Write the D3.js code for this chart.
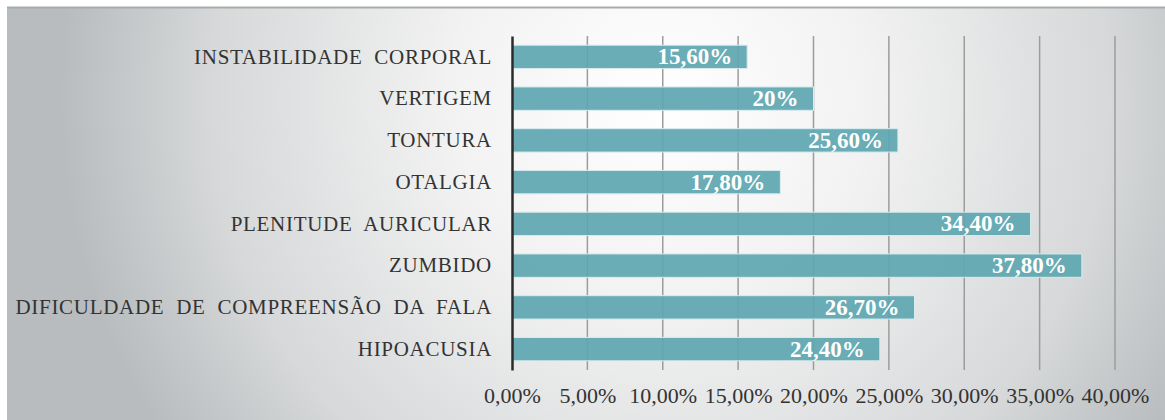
<!DOCTYPE html>
<html>
<head>
<meta charset="utf-8">
<script src="https://cdn.jsdelivr.net/npm/d3@7"></script>
</head>
<body style="margin:0">
<script>
// dados
const categorias = [
    "INSTABILIDADE  CORPORAL",
    "VERTIGEM",
    "TONTURA",
    "OTALGIA",
    "PLENITUDE  AURICULAR",
    "ZUMBIDO",
    "DIFICULDADE  DE  COMPREENSÃO  DA  FALA",
    "HIPOACUSIA"
];
const valores = [15.6, 20, 25.6, 17.8, 34.4, 37.8, 26.7, 24.4];
const rotulos = ["15,60%", "20%", "25,60%", "17,80%", "34,40%", "37,80%", "26,70%", "24,40%"];
const ticks = [0, 5, 10, 15, 20, 25, 30, 35, 40];

const width = 1165, height = 420;
const margin = {top: 36, left: 512};
const plotH = 334;

const svg = d3.select("body").append("svg")
    .attr("width", width)
    .attr("height", height)
    .style("display", "block")
    .attr("font-family", "Liberation Serif");

// fundo com gradiente
let defs = svg.append("defs");
let grad = defs.append("radialGradient")
    .attr("id", "bg")
    .attr("gradientUnits", "userSpaceOnUse")
    .attr("cx", 660).attr("cy", 100).attr("r", 600);
grad.append("stop").attr("offset", "0").attr("stop-color", "#ffffff");
grad.append("stop").attr("offset", "0.35").attr("stop-color", "#f2f2f2");
grad.append("stop").attr("offset", "0.75").attr("stop-color", "#d6d8d9");
grad.append("stop").attr("offset", "1").attr("stop-color", "#b8bcbe");

svg.append("rect")
    .attr("x", 7).attr("y", 8)
    .attr("width", width - 7).attr("height", height - 8)
    .attr("fill", "url(#bg)");
svg.append("line")
    .attr("x1", 7).attr("x2", width)
    .attr("y1", 7.5).attr("y2", 7.5)
    .attr("stroke", "#a9abac").attr("stroke-width", 2);

const x = d3.scaleLinear().domain([0, 40]).range([0, 1115 - margin.left]);
const y = d3.scaleBand().domain(categorias).range([0, plotH]).paddingInner(0.44).paddingOuter(0.22);

const g = svg.append("g")
    .attr("transform", "translate(" + margin.left + "," + margin.top + ")");

// linhas de grade
g.append("g").selectAll("line")
    .data(ticks.slice(1))
    .join("line")
    .attr("x1", d => x(d)).attr("x2", d => x(d))
    .attr("y1", 0).attr("y2", plotH)
    .attr("stroke", "#9c9c9c")
    .attr("stroke-width", 1.5);

// barras
g.append("g").selectAll("rect")
    .data(valores)
    .join("rect")
    .attr("x", 0)
    .attr("y", (d, i) => y(categorias[i]))
    .attr("width", d => x(d))
    .attr("height", y.bandwidth())
    .attr("fill", "#5fa7b0")
    .attr("fill-opacity", 0.93)
    .attr("stroke", "#d9ecee")
    .attr("stroke-width", 1);

// rótulos das barras
g.append("g").selectAll("text")
    .data(valores)
    .join("text")
    .attr("x", d => x(d) - 15)
    .attr("y", (d, i) => y(categorias[i]) + y.bandwidth() / 2)
    .attr("dy", "0.33em")
    .attr("text-anchor", "end")
    .attr("fill", "#fff")
    .attr("font-family", "Liberation Serif")
    .attr("font-weight", "bold")
    .attr("font-size", 23)
    .text((d, i) => rotulos[i]);

// eixo y
const axisY = g.append("g").call(d3.axisLeft(y).tickSize(0).tickPadding(20));
axisY.attr("font-family", "Liberation Serif").attr("font-size", 21);
axisY.select(".domain").attr("stroke", "#2b2b2b").attr("stroke-width", 2.5);
axisY.selectAll("text")
    .attr("fill", "#333")
    .attr("letter-spacing", 0.7)
    .attr("font-family", "Liberation Serif")
    .style("white-space", "pre");

// eixo x
const axisX = g.append("g")
    .attr("transform", "translate(0," + plotH + ")")
    .call(d3.axisBottom(x).tickValues(ticks).tickSize(0).tickPadding(17)
        .tickFormat(d => d3.format(".2f")(d).replace(".", ",") + "%"));
axisX.attr("font-family", "Liberation Serif").attr("font-size", 22);
axisX.select(".domain").remove();
axisX.selectAll("text")
    .attr("fill", "#333")
    .attr("font-family", "Liberation Serif");
</script>
</body>
</html>
